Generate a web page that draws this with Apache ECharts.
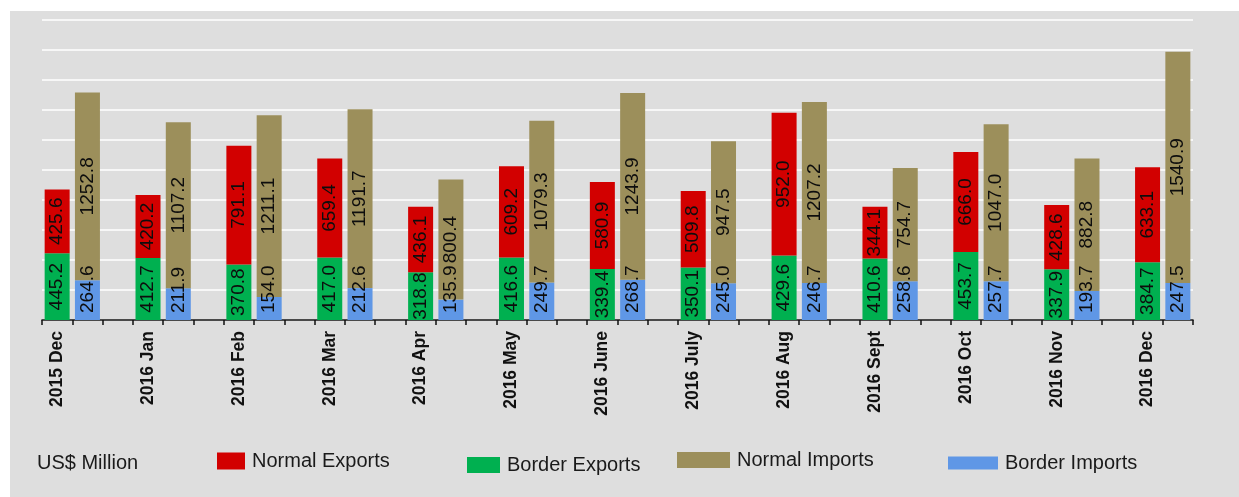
<!DOCTYPE html>
<html>
<head>
<meta charset="utf-8">
<script src="https://cdn.jsdelivr.net/npm/echarts@6/dist/echarts.min.js"></script>
<style>
  html, body { margin: 0; padding: 0; background: #ffffff; }
  #bg { position: absolute; left: 10px; top: 11px; width: 1229px; height: 486px; background: #dedede; }
  #chart { position: absolute; left: 0; top: 0; width: 1239px; height: 497px; }
</style>
</head>
<body>
<div id="bg"></div>
<div id="chart"></div>
<script>
// ---- data (US$ Million) ----
const months = ["2015 Dec", "2016 Jan", "2016 Feb", "2016 Mar", "2016 Apr", "2016 May", "2016 June",
                "2016 July", "2016 Aug", "2016 Sept", "2016 Oct", "2016 Nov", "2016 Dec"];
const borderExports = [445.2, 412.7, 370.8, 417.0, 318.8, 416.6, 339.4, 350.1, 429.6, 410.6, 453.7, 337.9, 384.7];
const normalExports = [425.6, 420.2, 791.1, 659.4, 436.1, 609.2, 580.9, 509.8, 952.0, 344.1, 666.0, 428.6, 633.1];
const borderImports = [264.6, 211.9, 154.0, 212.6, 135.9, 249.7, 268.7, 245.0, 246.7, 258.6, 257.7, 193.7, 247.5];
const normalImports = [1252.8, 1107.2, 1211.1, 1191.7, 800.4, 1079.3, 1243.9, 947.5, 1207.2, 754.7, 1047.0, 882.8, 1540.9];
const yTicks = { min: 0, max: 2000, interval: 200 };
const unitLabel = "US$ Million";

// Each month occupies three slots on the axis: exports, imports, gap (no gap after the last one).
const SLOTS = months.length * 3 - 1;
const slotLabels = [];
for (let i = 0; i < SLOTS; i++) slotLabels.push(i % 3 === 0 ? months[i / 3] : "");
function place(values, offset) {
  const arr = new Array(SLOTS).fill("-");
  values.forEach((v, k) => { arr[k * 3 + offset] = v; });
  return arr;
}

const FONT = "'Liberation Sans', Arial, sans-serif";
const fmt = p => (typeof p.value === "number" ? p.value.toFixed(1) : "");
const centerLabel = {
  show: true, position: "inside", rotate: 90, formatter: fmt,
  color: "#0d0d0d", fontSize: 19, fontFamily: FONT
};
const bottomLabel = {
  show: true, position: "insideBottom", distance: 7, rotate: 90, align: "left", verticalAlign: "middle",
  formatter: fmt, color: "#0d0d0d", fontSize: 19, fontFamily: FONT
};

const C = { ne: "#d20000", be: "#00b050", ni: "#9c8f5b", bi: "#5f97e6" };

function legendItem(name, left, centerY, w, h, color) {
  return {
    data: [{ name: name, icon: "rect", itemStyle: { color: color } }],
    left: left, top: centerY - 10, padding: 0, itemWidth: w, itemHeight: h,
    selectedMode: false,
    textStyle: { fontSize: 20, color: "#1a1a1a", fontFamily: FONT, padding: [0, 0, 0, 2] }
  };
}

const chart = echarts.init(document.getElementById("chart"), null, { renderer: "canvas" });
chart.setOption({
  backgroundColor: "transparent",
  animation: false,
  title: {
    text: unitLabel, left: 37, top: 453, padding: 0,
    textStyle: { fontSize: 20, fontWeight: "normal", color: "#1a1a1a", fontFamily: FONT }
  },
  legend: [
    legendItem("Normal Exports", 217, 461, 28, 17, C.ne),
    legendItem("Border Exports", 467, 465, 33, 16, C.be),
    legendItem("Normal Imports", 677, 460, 53, 16, C.ni),
    legendItem("Border Imports", 948, 463, 50, 13, C.bi)
  ],
  grid: { left: 42, right: 46, top: 20, bottom: 177 },
  xAxis: {
    type: "category", data: slotLabels, boundaryGap: true,
    axisLine: { show: true, lineStyle: { color: "#111", width: 1.5 } },
    axisTick: { show: true, interval: 0, length: 5, lineStyle: { color: "#111", width: 1.5 } },
    axisLabel: {
      interval: 0, rotate: 90, margin: 11, padding: [18, 0, 0, 0],
      fontSize: 17.5, fontWeight: "bold", color: "#111", fontFamily: FONT
    }
  },
  yAxis: {
    type: "value", min: yTicks.min, max: yTicks.max, interval: yTicks.interval,
    axisLine: { show: false }, axisTick: { show: false }, axisLabel: { show: false },
    splitLine: { show: true, lineStyle: { color: "#ffffff", width: 1.5 } }
  },
  series: [
    { name: "Border Exports", type: "bar", stack: "ex", data: place(borderExports, 0),
      barWidth: 25, barGap: "-100%", itemStyle: { color: C.be }, label: centerLabel },
    { name: "Normal Exports", type: "bar", stack: "ex", data: place(normalExports, 0),
      barWidth: 25, barGap: "-100%", itemStyle: { color: C.ne }, label: centerLabel },
    { name: "Border Imports", type: "bar", stack: "im", data: place(borderImports, 1),
      barWidth: 25, barGap: "-100%", itemStyle: { color: C.bi }, label: bottomLabel },
    { name: "Normal Imports", type: "bar", stack: "im", data: place(normalImports, 1),
      barWidth: 25, barGap: "-100%", itemStyle: { color: C.ni }, label: centerLabel }
  ]
});
</script>
</body>
</html>
